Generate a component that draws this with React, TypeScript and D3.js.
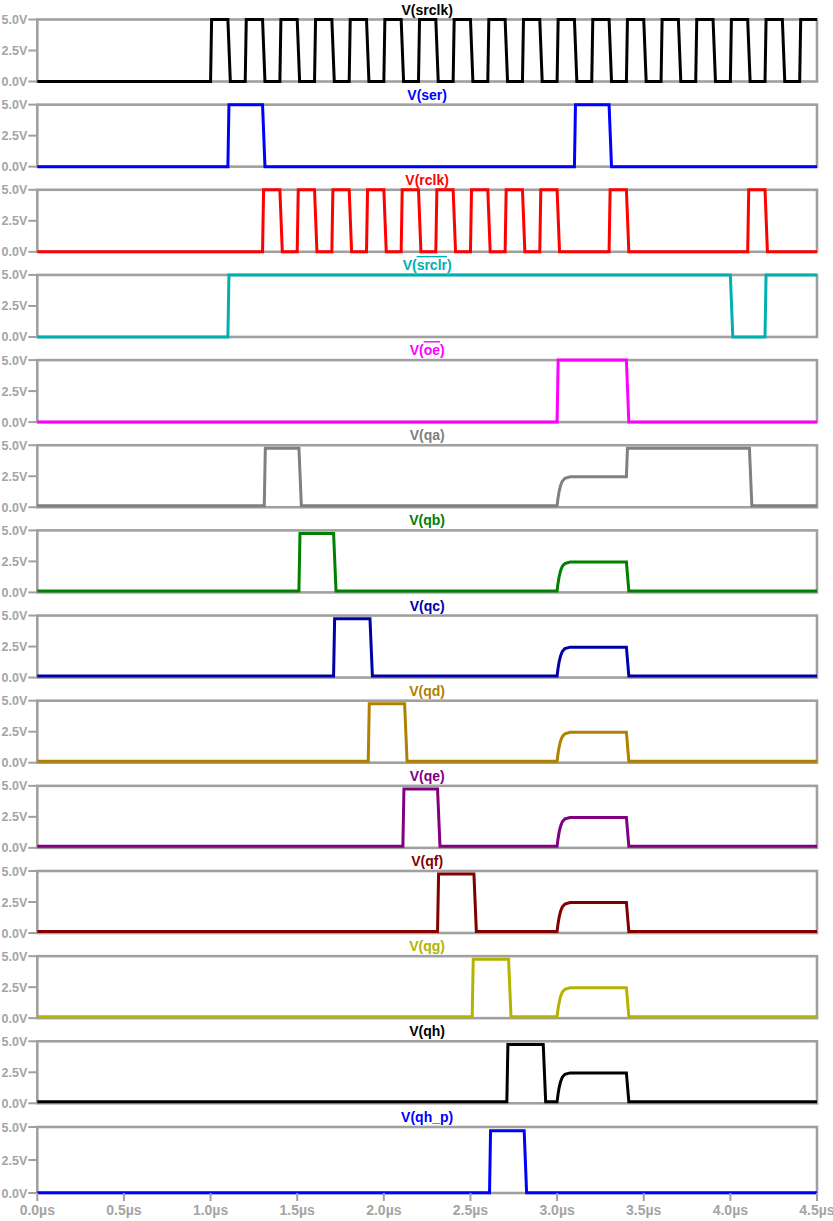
import React from 'react';
import * as d3 from 'd3';

type Seg = [number, number, string];

const timeTicks = [0, 0.5, 1.0, 1.5, 2.0, 2.5, 3.0, 3.5, 4.0, 4.5];
const voltTicks = [0, 2.5, 5.0];

const srclkHigh: Seg[] = [
  [1.0, 1.1, 'H'], [1.2, 1.3, 'H'], [1.4, 1.5, 'H'], [1.6, 1.7, 'H'], [1.8, 1.9, 'H'],
  [2.0, 2.1, 'H'], [2.2, 2.3, 'H'], [2.4, 2.5, 'H'], [2.6, 2.7, 'H'], [2.8, 2.9, 'H'],
  [3.0, 3.1, 'H'], [3.2, 3.3, 'H'], [3.4, 3.5, 'H'], [3.6, 3.7, 'H'], [3.8, 3.9, 'H'],
  [4.0, 4.1, 'H'], [4.2, 4.3, 'H'], [4.4, 4.5, 'H'],
];
const serHigh: Seg[] = [[1.1, 1.3, 'H'], [3.1, 3.3, 'H']];
const rclkHigh: Seg[] = [
  [1.3, 1.4, 'H'], [1.5, 1.6, 'H'], [1.7, 1.8, 'H'], [1.9, 2.0, 'H'], [2.1, 2.2, 'H'],
  [2.3, 2.4, 'H'], [2.5, 2.6, 'H'], [2.7, 2.8, 'H'], [2.9, 3.0, 'H'], [3.3, 3.4, 'H'],
  [4.1, 4.2, 'H'],
];
const srclrHigh: Seg[] = [[1.1, 4.0, 'H'], [4.2, 4.5, 'H']];
const oeHigh: Seg[] = [[3.0, 3.4, 'H']];
const qaSegs: Seg[] = [[1.31, 1.51, 'H'], [3.0, 3.4, 'Z'], [3.4, 4.11, 'H']];
const qbSegs: Seg[] = [[1.51, 1.71, 'H'], [3.0, 3.4, 'Z']];
const qcSegs: Seg[] = [[1.71, 1.92, 'H'], [3.0, 3.4, 'Z']];
const qdSegs: Seg[] = [[1.91, 2.12, 'H'], [3.0, 3.4, 'Z']];
const qeSegs: Seg[] = [[2.11, 2.31, 'H'], [3.0, 3.4, 'Z']];
const qfSegs: Seg[] = [[2.31, 2.52, 'H'], [3.0, 3.4, 'Z']];
const qgSegs: Seg[] = [[2.51, 2.72, 'H'], [3.0, 3.4, 'Z']];
const qhSegs: Seg[] = [[2.71, 2.92, 'H'], [3.0, 3.4, 'Z']];
const qhpSegs: Seg[] = [[2.61, 2.81, 'H']];

// RC knee of the Hi-Z step: [dt in µs, fraction of step]
const zKnee: [number, number][] = [
  [0, 0], [0.005, 0.25], [0.012, 0.5], [0.02, 0.7], [0.03, 0.85], [0.045, 0.95], [0.075, 1],
];

interface Sig {
  name: string;
  pre: string;
  over: string;
  post: string;
  color: string;
  segs: Seg[];
  low: number;
  high: number;
  z: number;
}

const signals: Sig[] = [
  { name: 'srclk', pre: 'V(srclk)', over: '', post: '', color: '#000000', segs: srclkHigh, low: 0, high: 5, z: 2.5 },
  { name: 'ser', pre: 'V(ser)', over: '', post: '', color: '#0000ff', segs: serHigh, low: 0, high: 5, z: 2.5 },
  { name: 'rclk', pre: 'V(rclk)', over: '', post: '', color: '#ff0000', segs: rclkHigh, low: 0, high: 5, z: 2.5 },
  { name: 'srclr', pre: 'V(', over: 'srclr', post: ')', color: '#00b0b0', segs: srclrHigh, low: 0, high: 5, z: 2.5 },
  { name: 'oe', pre: 'V(', over: 'oe', post: ')', color: '#ff00ff', segs: oeHigh, low: 0, high: 5, z: 2.5 },
  { name: 'qa', pre: 'V(qa)', over: '', post: '', color: '#808080', segs: qaSegs, low: 0.12, high: 4.75, z: 2.45 },
  { name: 'qb', pre: 'V(qb)', over: '', post: '', color: '#008000', segs: qbSegs, low: 0.12, high: 4.75, z: 2.45 },
  { name: 'qc', pre: 'V(qc)', over: '', post: '', color: '#0000a8', segs: qcSegs, low: 0.12, high: 4.75, z: 2.45 },
  { name: 'qd', pre: 'V(qd)', over: '', post: '', color: '#b08000', segs: qdSegs, low: 0.12, high: 4.75, z: 2.45 },
  { name: 'qe', pre: 'V(qe)', over: '', post: '', color: '#800080', segs: qeSegs, low: 0.12, high: 4.75, z: 2.45 },
  { name: 'qf', pre: 'V(qf)', over: '', post: '', color: '#800000', segs: qfSegs, low: 0.12, high: 4.75, z: 2.45 },
  { name: 'qg', pre: 'V(qg)', over: '', post: '', color: '#b4b400', segs: qgSegs, low: 0.12, high: 4.75, z: 2.45 },
  { name: 'qh', pre: 'V(qh)', over: '', post: '', color: '#000000', segs: qhSegs, low: 0.12, high: 4.75, z: 2.45 },
  { name: 'qh_p', pre: 'V(qh_p)', over: '', post: '', color: '#0000ff', segs: qhpSegs, low: 0.02, high: 4.72, z: 2.45 },
];

const T_END = 4.5;
const RISE = 0.006;
const FALL = 0.014;

function buildPoints(s: Sig): [number, number][] {
  const pts: [number, number][] = [[0, s.low]];
  let cur = s.low;
  const lvl = (k: string) => (k === 'Z' ? s.z : s.high);
  s.segs.forEach((seg, i) => {
    const [start, end, kind] = seg;
    const target = lvl(kind);
    if (kind === 'Z' && cur === s.low) {
      zKnee.forEach(([dt, f]) => pts.push([start + dt, cur + f * (target - cur)]));
    } else {
      const dur = target > cur ? RISE : FALL;
      pts.push([start, cur]);
      pts.push([start + dur, target]);
    }
    cur = target;
    const next = s.segs[i + 1];
    if (end < T_END && !(next && next[0] === end)) {
      pts.push([end, cur]);
      pts.push([end + FALL, s.low]);
      cur = s.low;
    }
  });
  pts.push([T_END, cur]);
  return pts;
}

const X0 = 37.3;
const X1 = 817;
const FRAME = '#a0a0a0';
const TEXT = '#a4a4a4';
const FONT = '"Liberation Sans", Arial, sans-serif';

export default function App() {
  const x = d3.scaleLinear().domain([0, T_END]).range([X0, X1]);
  const n = signals.length;
  const panelTop = (k: number) => (k === n - 1 ? 1127 : 19.5 + k * 85.15);
  const panelBottom = (k: number) => (k === n - 1 ? 1193 : 19.5 + k * 85.15 + 62);

  return (
    <svg width={833} height={1221} style={{ position: 'absolute', left: 0, top: 0, background: '#fff' }}>
      <rect x={0} y={0} width={833} height={1221} fill="#ffffff" />
      {signals.map((s, k) => {
        const top = panelTop(k);
        const bottom = panelBottom(k);
        const y = d3.scaleLinear().domain([0, 5]).range([bottom, top]);
        const line = d3
          .line<[number, number]>()
          .x((d) => x(d[0]))
          .y((d) => y(d[1]));
        const d = line(buildPoints(s)) || '';
        return (
          <g key={s.name}>
            <rect x={X0} y={top} width={X1 - X0} height={bottom - top} fill="none" stroke={FRAME} strokeWidth={2.6} />
            {voltTicks.map((v) => (
              <g key={v}>
                <line x1={X0 - 9} x2={X0} y1={y(v)} y2={y(v)} stroke={FRAME} strokeWidth={2} />
                <text
                  x={X0 - 10}
                  y={y(v) + 4.5}
                  textAnchor="end"
                  fontFamily={FONT}
                  fontWeight="bold"
                  fontSize={12.5}
                  fill={TEXT}
                >
                  {v.toFixed(1)}V
                </text>
              </g>
            ))}
            <path d={d} fill="none" stroke={s.color} strokeWidth={3} strokeLinejoin="miter" />
            <text
              x={(X0 + X1) / 2}
              y={top - 5}
              textAnchor="middle"
              fontFamily={FONT}
              fontWeight="bold"
              fontSize={14}
              fill={s.color}
            >
              {s.pre}
              {s.over ? <tspan style={{ textDecoration: 'overline' }}>{s.over}</tspan> : null}
              {s.post}
            </text>
          </g>
        );
      })}
      {timeTicks.map((t) => (
        <g key={t}>
          <line x1={x(t)} x2={x(t)} y1={1193} y2={1201} stroke={FRAME} strokeWidth={2} />
          <text
            x={x(t)}
            y={1215}
            textAnchor="middle"
            fontFamily={FONT}
            fontWeight="bold"
            fontSize={14}
            fill={TEXT}
          >
            {t.toFixed(1)}µs
          </text>
        </g>
      ))}
    </svg>
  );
}
